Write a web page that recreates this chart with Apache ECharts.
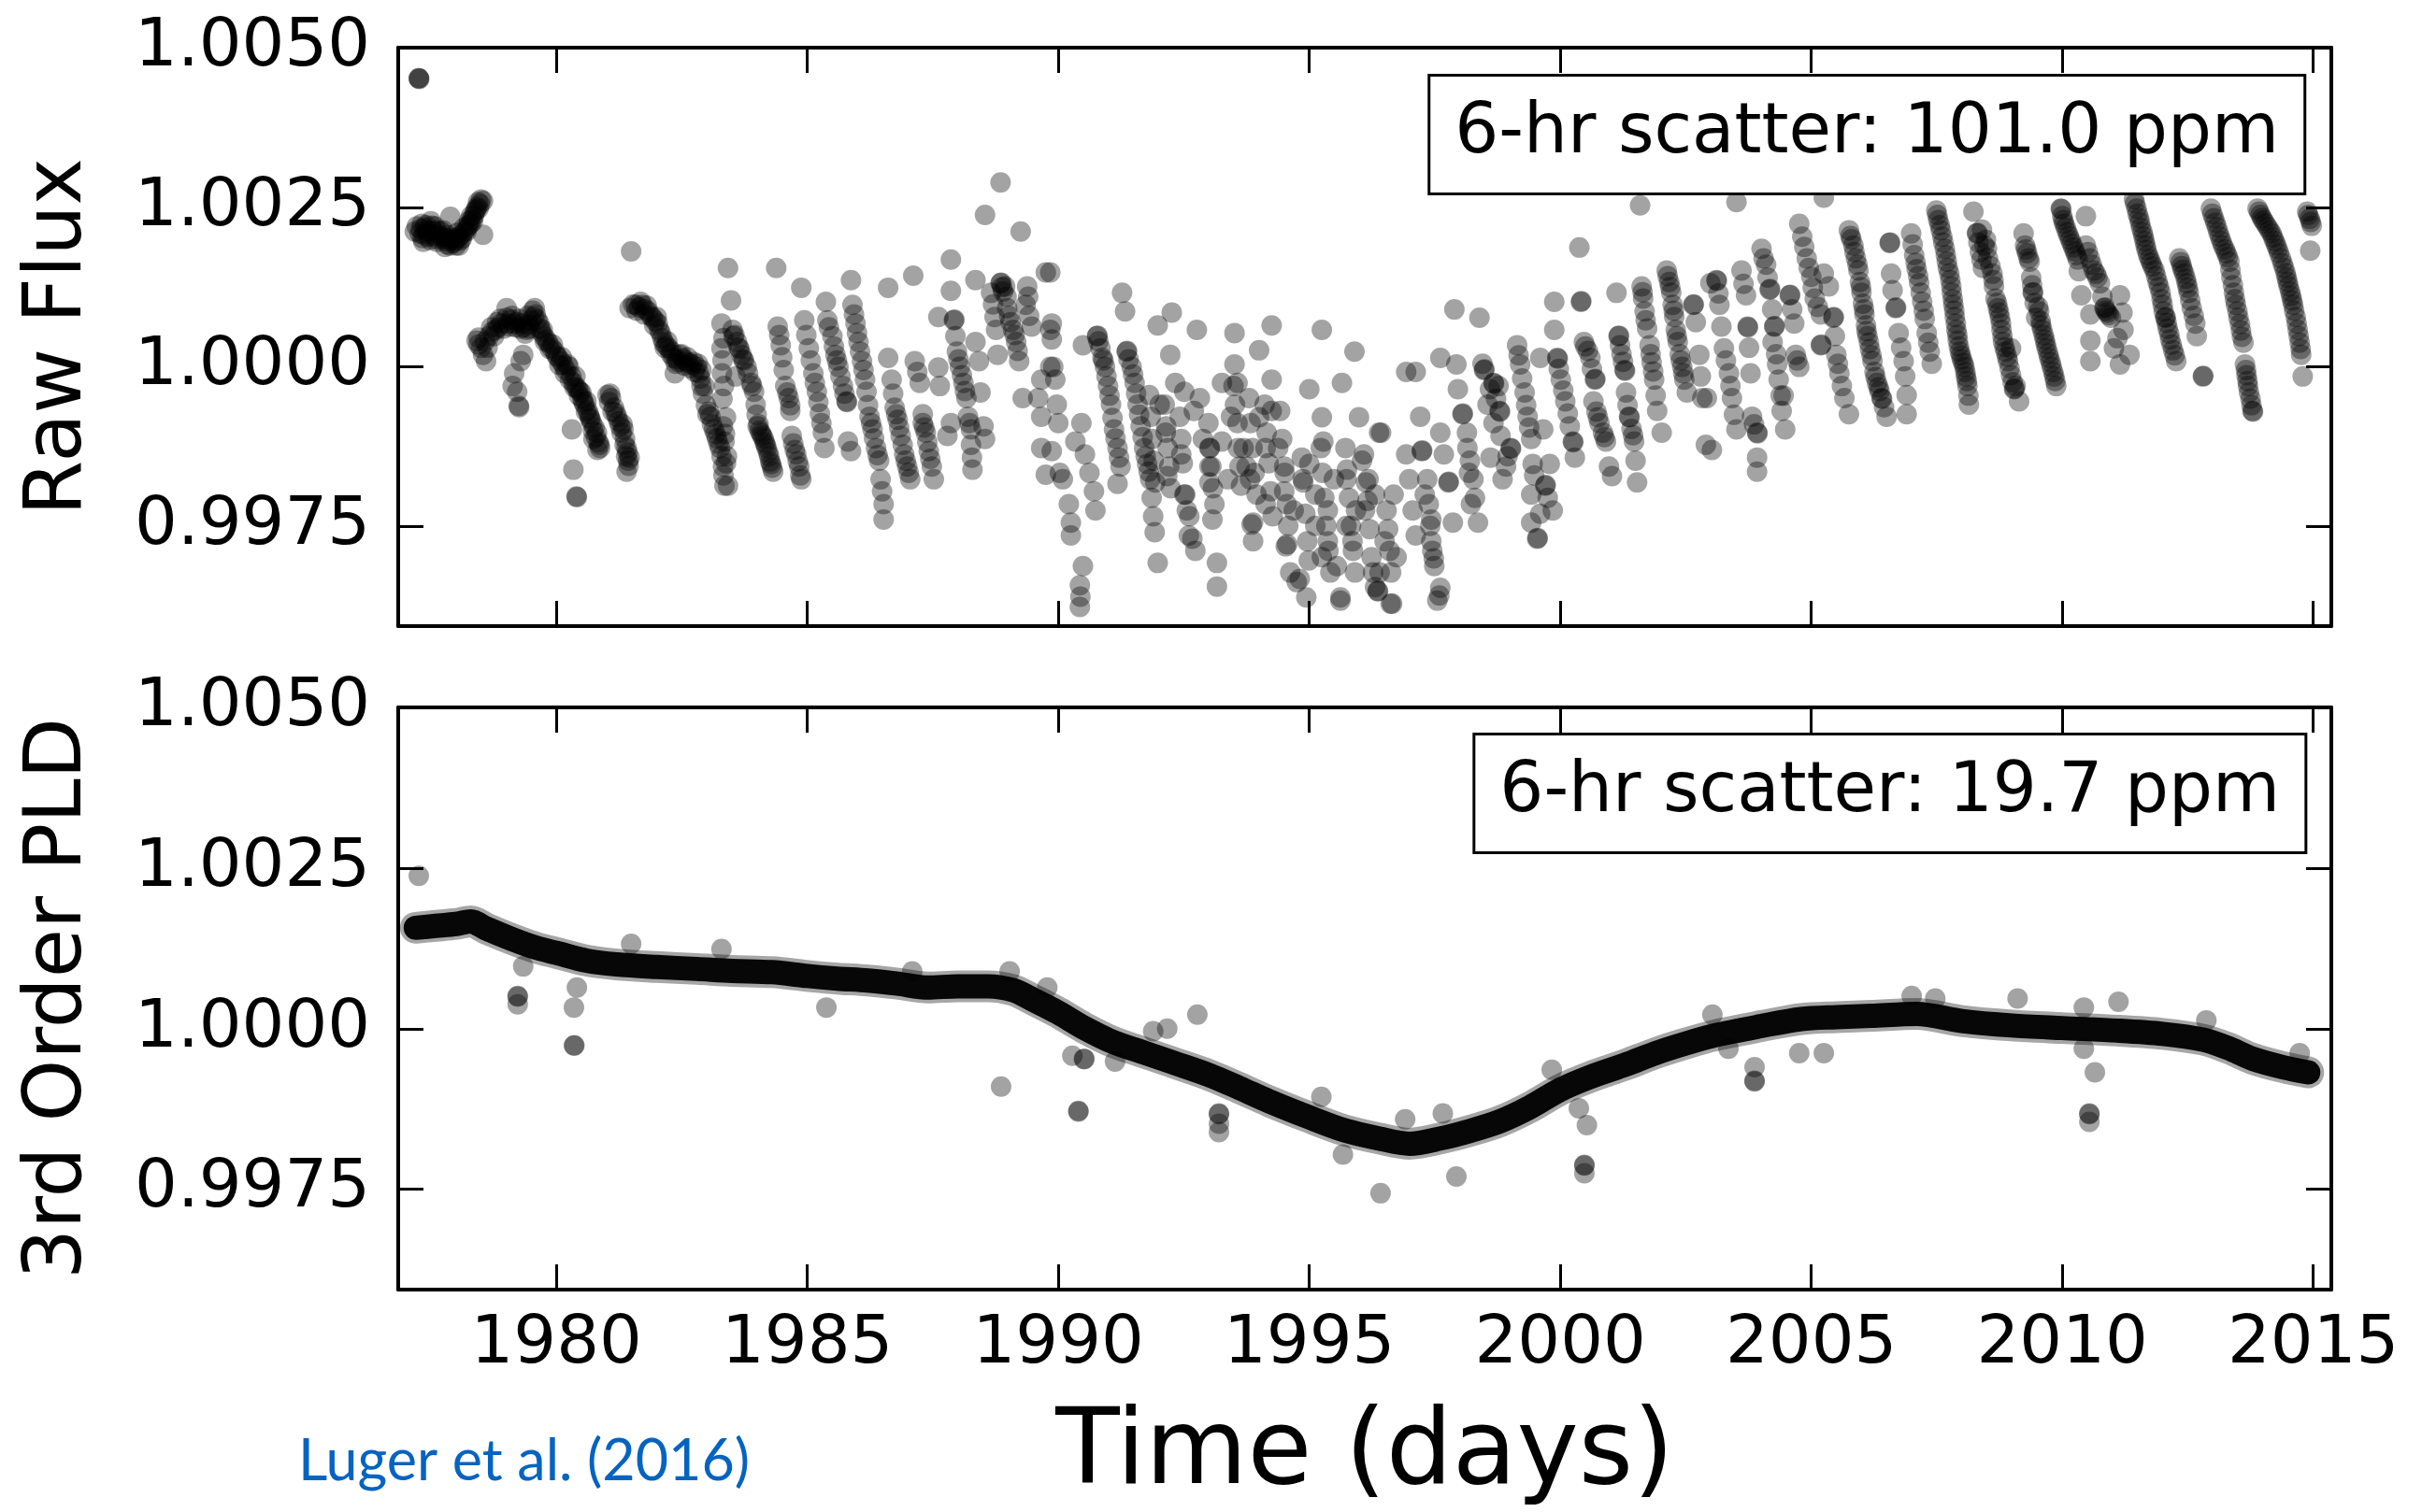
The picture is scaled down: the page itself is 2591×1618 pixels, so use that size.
<!DOCTYPE html>
<html><head><meta charset="utf-8">
<script src="https://cdn.jsdelivr.net/npm/echarts@6/dist/echarts.min.js"></script>
<style>html,body{margin:0;padding:0;background:#fff}#c{width:2591px;height:1618px}</style>
</head><body><div id="c"></div>
<script>
const xTicks = [1980, 1985, 1990, 1995, 2000, 2005, 2010, 2015];
const yTicks = [0.9975, 1.0000, 1.0025, 1.0050];
const xRange = [1976.85, 2015.36];
const yRange = [0.99594, 1.0050];
const topLabel = '6-hr scatter: 101.0 ppm';
const bottomLabel = '6-hr scatter: 19.7 ppm';

// Raw flux: [time, flux]
const rawPoints = [
[1977.26,1.00452],[1977.26,1.00452],[1977.27,1.00451],
[1977.30,1.00216],[1977.36,1.00207],[1977.42,1.00214],[1977.52,1.00221],[1977.61,1.00214],[1977.67,1.00207],[1977.76,1.00204],[1977.86,1.00199],[1977.95,1.00194],[1978.04,1.00202],[1978.14,1.00209],[1978.23,1.00219],[1978.32,1.00231],[1978.38,1.00243],[1978.48,1.00255],[1978.54,1.00260],[1978.45,1.00248],[1978.29,1.00224],[1977.48,1.00199],[1977.33,1.00202],[1977.40,1.00222],[1977.57,1.00205],[1977.80,1.00197],[1978.00,1.00190],[1978.18,1.00213],[1978.36,1.00237],[1977.28,1.00209],[1977.45,1.00210],[1977.70,1.00212],[1977.90,1.00203],[1978.09,1.00198],[1978.26,1.00228],[1978.42,1.00250],[1977.38,1.00218],[1977.55,1.00213],[1977.83,1.00192],[1978.54,1.00207],[1977.89,1.00235],
[1977.18,1.00212],[1977.22,1.00220],[1977.32,1.00224],[1977.35,1.00196],[1977.44,1.00204],[1977.50,1.00228],[1977.58,1.00220],[1977.64,1.00200],[1977.72,1.00202],[1977.74,1.00214],[1977.82,1.00206],[1977.88,1.00190],[1977.93,1.00200],[1977.98,1.00197],[1978.02,1.00210],[1978.07,1.00205],[1978.12,1.00201],[1978.16,1.00218],[1978.21,1.00212],[1978.25,1.00222],[1978.30,1.00236],[1978.34,1.00228],[1978.40,1.00246],[1978.44,1.00258],[1978.50,1.00262],[1977.62,1.00196],[1977.78,1.00188],[1978.06,1.00190],
[1978.41,1.00041],[1978.54,1.00019],[1978.60,1.00009],[1978.66,1.00048],[1978.79,1.00058],[1978.91,1.00068],[1979.01,1.00077],[1979.07,1.00063],[1979.16,1.00068],[1979.29,1.00060],[1979.41,1.00058],[1979.50,1.00073],[1979.59,1.00082],[1979.66,1.00068],[1979.75,1.00048],[1979.84,1.00038],[1979.97,1.00024],[1980.09,1.00009],[1980.19,0.99995],[1980.25,1.00000],[1980.34,0.99975],[1980.47,0.99961],[1980.56,0.99941],[1980.65,0.99926],[1980.71,0.99912],[1980.81,0.99897],[1980.87,0.99873],[1980.74,0.99887],
[1979.10,1.00074],[1979.45,1.00066],[1979.70,1.00055],[1979.90,1.00030],[1980.03,1.00015],[1980.30,0.99985],[1980.40,0.99968],[1980.52,0.99950],[1980.62,0.99932],[1980.76,0.99905],[1980.84,0.99882],[1978.50,1.00030],[1978.72,1.00055],[1978.85,1.00062],[1979.22,1.00070],[1979.35,1.00062],[1979.55,1.00078],[1979.80,1.00043],[1980.14,1.00003],[1980.43,0.99965],[1980.68,0.99918],
[1978.45,1.00035],[1978.58,1.00040],[1978.63,1.00030],[1978.70,1.00062],[1978.76,1.00048],[1978.82,1.00070],[1978.88,1.00075],[1978.95,1.00060],[1979.04,1.00068],[1979.12,1.00080],[1979.19,1.00062],[1979.26,1.00075],[1979.32,1.00068],[1979.38,1.00052],[1979.43,1.00080],[1979.48,1.00060],[1979.53,1.00088],[1979.62,1.00074],[1979.68,1.00060],[1979.73,1.00058],[1979.77,1.00040],[1979.87,1.00028],[1979.93,1.00035],[1980.00,1.00018],[1980.06,1.00003],[1980.11,1.00015],[1980.17,0.99990],[1980.22,1.00004],[1980.27,0.99980],[1980.36,0.99968],[1980.38,0.99985],[1980.45,0.99955],[1980.50,0.99960],[1980.54,0.99945],[1980.59,0.99930],[1980.60,0.99946],[1980.67,0.99920],[1980.73,0.99900],[1980.79,0.99890],[1980.86,0.99878],[1980.82,0.99870],
[1979.01,1.00092],[1979.57,1.00092],[1978.45,1.00046],[1979.34,1.00019],[1979.29,1.00009],[1979.16,0.99990],[1979.13,0.99970],[1979.22,0.99961],[1979.25,0.99939],[1979.26,0.99937],[1980.31,0.99902],[1980.34,0.99839],[1980.40,0.99797],[1980.41,0.99796],
[1981.09,0.99951],[1981.21,0.99922],[1981.34,0.99902],[1981.40,0.99873],[1981.43,0.99853],[1981.40,0.99836],[1981.02,0.99956],[1981.15,0.99936],[1981.27,0.99907],[1981.37,0.99887],[1981.46,0.99858],[1981.05,0.99945],[1981.18,0.99928],[1981.30,0.99897],[1981.42,0.99866],
[1981.07,0.99958],[1981.12,0.99930],[1981.24,0.99915],[1981.32,0.99910],[1981.36,0.99878],[1981.39,0.99860],[1981.44,0.99845],
[1981.49,1.00181],
[1981.58,1.00097],[1981.83,1.00087],[1982.02,1.00068],[1982.14,1.00038],[1982.33,1.00014],[1982.58,1.00009],[1982.79,1.00000],[1982.89,0.99970],[1983.01,0.99926],[1983.14,0.99902],[1983.26,0.99873],[1983.32,0.99844],[1983.35,0.99814],
[1981.46,1.00092],[1981.71,1.00097],[1981.92,1.00077],[1982.08,1.00053],[1982.24,1.00029],[1982.45,1.00019],[1982.70,1.00004],[1982.89,0.99995],[1982.36,0.99990],[1982.95,0.99970],[1983.07,0.99922],
[1981.65,1.00093],[1981.77,1.00090],[1981.97,1.00072],[1982.19,1.00033],[1982.40,1.00012],[1982.52,1.00013],[1982.64,1.00006],[1982.84,0.99990],[1983.20,0.99888],
[1981.53,1.00098],[1981.60,1.00088],[1981.68,1.00102],[1981.75,1.00082],[1981.80,1.00096],[1981.88,1.00080],[1981.95,1.00065],[1982.00,1.00078],[1982.05,1.00058],[1982.11,1.00045],[1982.16,1.00030],[1982.21,1.00040],[1982.28,1.00020],[1982.30,1.00024],[1982.38,1.00005],[1982.43,1.00008],[1982.49,1.00020],[1982.55,1.00002],[1982.61,1.00015],[1982.67,0.99998],[1982.73,1.00008],[1982.76,0.99992],[1982.82,1.00005],[1982.87,0.99982],[1982.92,0.99958],[1982.98,0.99940],[1983.04,0.99930],[1983.10,0.99910],[1983.17,0.99895],[1983.23,0.99880],[1983.29,0.99860],[1983.33,0.99830],
[1983.42,1.00155],[1983.48,1.00104],[1983.51,1.00058],[1983.60,1.00039],[1983.69,1.00019],[1983.79,1.00000],[1983.57,0.99985],[1983.88,0.99975],[1983.94,0.99961],[1983.97,0.99941],[1984.01,0.99907],[1984.10,0.99892],[1984.19,0.99873],[1984.28,0.99848],[1984.32,0.99836],
[1983.32,0.99907],[1983.35,0.99883],[1983.38,0.99849],[1983.42,0.99814],[1983.38,0.99921],[1983.29,1.00068],[1983.29,1.00029],[1983.30,0.99990],[1983.31,0.99950],
[1983.55,1.00050],[1983.65,1.00028],[1983.74,1.00010],[1984.05,0.99900],[1984.15,0.99882],[1984.24,0.99860],
[1983.33,1.00045],[1983.31,1.00010],[1983.34,0.99970],[1983.36,0.99895],[1983.40,0.99860],[1983.53,1.00048],[1983.63,1.00030],[1983.72,1.00012],[1983.82,0.99990],[1983.90,0.99970],[1983.99,0.99925],[1984.03,0.99910],[1984.08,0.99896],[1984.13,0.99888],[1984.17,0.99878],[1984.22,0.99866],[1984.26,0.99852],[1984.30,0.99842],
[1984.38,1.00155],[1984.88,1.00124],[1984.41,1.00063],[1984.47,1.00034],[1984.53,0.99995],[1984.56,0.99970],[1984.63,0.99951],[1984.66,0.99931],[1984.69,0.99892],[1984.78,0.99863],[1984.84,0.99844],[1984.88,0.99824],
[1984.44,1.00050],[1984.50,1.00015],[1984.60,0.99960],[1984.66,0.99940],[1984.72,0.99880],[1984.75,0.99870],[1984.81,0.99852],[1984.86,0.99830],
[1984.94,1.00073],[1985.03,1.00029],[1985.12,0.99990],[1985.19,0.99961],[1985.25,0.99927],[1985.31,0.99897],[1985.34,0.99873],[1985.37,1.00102],[1985.40,1.00073],[1985.50,1.00048],[1985.56,1.00019],[1985.62,1.00000],[1985.71,0.99970],[1985.78,0.99946],[1985.79,0.99945],
[1984.98,1.00050],[1985.07,1.00010],[1985.15,0.99975],[1985.22,0.99945],[1985.28,0.99912],[1985.43,1.00062],[1985.53,1.00032],[1985.59,1.00010],[1985.66,0.99985],[1985.74,0.99958],
[1985.87,1.00136],[1985.90,1.00097],[1985.96,1.00068],[1986.02,1.00039],[1986.09,1.00009],[1986.15,0.99980],[1986.18,0.99961],[1986.24,0.99922],[1986.30,0.99902],[1986.37,0.99873],[1986.43,0.99853],[1986.46,0.99824],[1986.52,0.99785],[1986.52,0.99761],[1985.81,0.99883],[1985.87,0.99868],
[1985.93,1.00082],[1985.99,1.00053],[1986.05,1.00024],[1986.12,0.99995],[1986.21,0.99940],[1986.27,0.99912],[1986.33,0.99888],[1986.40,0.99862],[1986.49,0.99805],
[1986.61,1.00124],[1986.61,1.00014],[1986.68,0.99980],[1986.74,0.99936],[1986.80,0.99917],[1986.86,0.99892],[1986.93,0.99863],[1986.99,0.99844],[1987.05,0.99824],[1987.11,1.00143],
[1986.71,0.99958],[1986.77,0.99926],[1986.83,0.99905],[1986.90,0.99878],[1986.96,0.99853],[1987.02,0.99834],
[1987.14,1.00009],[1987.24,0.99975],[1987.30,0.99912],[1987.36,0.99897],[1987.42,0.99868],[1987.48,0.99844],[1987.52,0.99824],[1987.30,0.99926],[1987.61,0.99999],[1987.64,0.99970],
[1987.19,0.99992],[1987.33,0.99905],[1987.39,0.99882],[1987.45,0.99856],
[1987.86,1.00168],[1987.86,1.00119],[1987.92,1.00073],[1987.93,1.00074],[1987.61,1.00078],[1987.98,1.00024],[1988.04,1.00000],[1988.11,0.99975],[1988.17,0.99951],[1988.20,0.99922],[1988.26,0.99902],[1988.26,0.99878],[1988.29,0.99839],[1987.79,0.99892],[1987.86,0.99912],[1988.35,1.00039],[1988.42,1.00009],[1988.45,0.99960],[1988.51,0.99907],[1988.54,0.99887],[1988.35,1.00136],
[1987.95,1.00048],[1988.01,1.00012],[1988.08,0.99987],[1988.14,0.99962],[1988.23,0.99912],[1988.28,0.99858],
[1988.54,1.00238],[1988.85,1.00289],[1989.25,1.00212],[1988.85,1.00131],[1988.86,1.00132],[1988.94,1.00126],[1988.66,1.00116],[1988.73,1.00078],[1988.76,1.00058],[1989.10,1.00058],[1989.16,1.00039],[1989.22,1.00009],[1989.35,1.00097],[1989.38,1.00126],[1989.47,1.00063],[1988.79,1.00019],[1988.98,1.00092],[1989.75,1.00148],[1989.84,1.00058],[1989.66,0.99980],[1989.29,0.99951],[1989.60,0.99951],[1989.66,0.99922],[1989.66,0.99873],[1989.75,0.99831],[1989.84,1.00000],[1988.90,1.00118],[1989.02,1.00080],
[1988.88,1.00125],[1988.97,1.00110],[1989.05,1.00070],[1989.13,1.00050],[1989.19,1.00025],[1989.42,1.00080],[1988.70,1.00098],[1989.40,1.00110],
[1989.84,1.00148],[1989.87,1.00068],[1989.87,1.00043],[1989.90,1.00000],[1989.94,0.99980],[1989.97,0.99941],[1990.00,0.99912],[1989.87,0.99868],[1990.03,0.99834],[1990.09,0.99824],[1990.21,0.99785],[1990.25,0.99756],[1990.25,0.99736],
[1990.49,1.00034],[1990.34,0.99883],[1990.46,0.99912],[1990.53,0.99863],[1990.62,0.99834],[1990.71,0.99805],[1990.74,0.99775],[1990.49,0.99688],[1990.43,0.99658],[1990.43,0.99624],[1990.44,0.99640],
[1990.77,1.00048],[1990.78,1.00049],[1990.84,1.00029],[1990.93,1.00000],[1990.99,0.99970],[1991.05,0.99941],[1991.11,0.99902],[1991.18,0.99873],[1991.24,0.99844],[1991.18,0.99817],[1991.27,1.00116],[1991.33,1.00087],[1990.88,1.00014],[1991.02,0.99955],[1991.08,0.99920],
[1990.80,1.00040],[1990.90,1.00010],[1990.96,0.99985],[1991.14,0.99888],[1991.21,0.99858],[1991.40,1.00012],[1991.55,0.99958],[1991.68,0.99890],[1991.74,0.99860],[1991.80,0.99836],
[1991.36,1.00024],[1991.37,1.00025],[1991.46,1.00000],[1991.52,0.99975],[1991.58,0.99941],[1991.64,0.99907],[1991.71,0.99873],[1991.77,0.99848],[1991.83,0.99824],[1991.86,0.99795],[1991.89,0.99766],[1991.92,0.99741],[1991.98,0.99693],[1991.49,0.99988],[1991.61,0.99925],
[1991.98,1.00065],[1992.26,1.00085],[1992.23,1.00019],[1992.33,0.99975],[1992.02,0.99941],[1992.14,0.99897],[1992.45,0.99863],[1992.17,0.99829],[1992.51,0.99800],[1992.61,0.99766],[1992.67,0.99731],[1992.73,0.99712],[1992.76,1.00058],[1992.82,0.99951],[1992.88,0.99887],[1993.01,0.99819],[1993.07,0.99761],[1993.16,0.99693],[1993.16,0.99656],[1993.26,0.99883],[1993.26,0.99975],
[1991.81,0.99956],[1991.84,0.99922],[1991.87,0.99887],[1991.90,0.99853],[1991.93,0.99819],
[1992.12,0.99941],[1992.15,0.99907],[1992.18,0.99873],[1992.21,0.99844],[1992.24,0.99810],
[1992.42,0.99922],[1992.45,0.99887],[1992.48,0.99849],[1992.53,0.99800],[1992.56,0.99775],[1992.60,0.99736],
[1992.99,0.99912],[1993.02,0.99873],[1993.05,0.99844],[1993.08,0.99810],[1993.11,0.99785],
[1993.49,0.99970],[1993.52,0.99941],[1993.58,0.99873],[1993.61,0.99844],[1993.64,0.99814],
[1993.80,0.99951],[1993.83,0.99912],[1993.87,0.99873],[1993.91,0.99834],[1993.95,0.99800],
[1994.11,0.99941],[1994.15,0.99897],[1994.19,0.99849],[1994.23,0.99805],[1994.27,0.99766],
[1994.42,0.99931],[1994.46,0.99887],[1994.51,0.99834],[1994.55,0.99785],[1994.58,0.99751],
[1994.85,0.99858],[1994.88,0.99819],[1994.92,0.99770],[1994.96,0.99727],[1994.99,0.99697],
[1995.23,0.99873],[1995.26,0.99834],[1995.30,0.99795],[1995.34,0.99751],[1995.38,0.99712],[1995.42,0.99678],
[1995.72,0.99873],[1995.75,0.99839],[1995.79,0.99795],[1995.83,0.99751],[1995.87,0.99712],[1995.91,0.99678],
[1996.09,0.99863],[1996.13,0.99819],[1996.16,0.99790],[1996.20,0.99746],[1996.27,0.99678],
[1993.51,1.00053],[1993.51,1.00004],[1993.57,0.99975],[1993.57,0.99912],[1993.38,0.99824],[1993.75,0.99844],[1993.88,0.99756],[1993.88,0.99727],[1994.00,1.00026],[1994.25,1.00065],[1994.25,0.99980],[1994.25,0.99931],[1994.38,0.99873],[1994.50,0.99805],[1994.56,0.99722],[1994.75,0.99663],[1994.94,0.99639],[1994.62,0.99678],[1994.13,0.99785],
[1992.51,0.99961],[1992.70,0.99931],[1993.01,0.99844],[1993.01,0.99873],[1993.44,0.99922],[1993.69,0.99873],[1993.82,0.99824],[1994.00,0.99921],[1994.13,0.99873],[1994.50,0.99844],[1994.69,0.99775],[1994.87,0.99824],[1995.12,0.99751],[1995.37,0.99727],[1995.74,0.99751],[1995.93,0.99775],[1996.18,0.99824],
[1995.00,0.99965],[1995.25,1.00058],[1995.65,0.99975],[1995.90,1.00024],[1995.25,0.99921],[1995.28,0.99883],[1995.00,0.99848],[1995.12,0.99800],[1995.37,0.99775],[1995.49,0.99824],[1995.55,0.99688],[1995.62,0.99639],[1995.74,0.99824],[1995.99,0.99921],[1996.05,0.99853],[1996.11,0.99775],[1996.24,0.99702],[1996.36,0.99649],[1996.39,0.99897],[1995.86,0.99727],[1995.25,0.99702],
[1994.81,0.99668],[1994.53,0.99719],[1995.62,0.99634],[1996.31,0.99655],[1996.62,0.99629],[1997.59,0.99642],[1997.48,0.99700],[1993.85,0.99753],
[1996.43,0.99897],[1996.31,0.99800],[1996.50,0.99727],[1996.40,0.99678],[1996.68,0.99800],[1996.74,0.99702],[1996.65,0.99629],[1996.37,0.99649],[1996.93,0.99863],[1996.99,0.99824],[1997.06,0.99775],[1997.12,0.99736],[1997.24,0.99868],[1997.25,0.99869],[1997.21,0.99922],[1996.93,0.99992],[1997.12,0.99992],[1997.30,0.99800],[1997.43,0.99727],[1997.49,0.99688],[1997.61,0.99654],[1997.55,0.99634],[1997.43,0.99761],[1997.61,0.99897],[1997.68,0.99863],[1997.77,0.99819],[1997.78,0.99820],[1997.86,0.99756],[1997.89,1.00090],[1998.39,1.00077],[1997.61,1.00014],
[1996.54,0.99775],[1996.57,0.99746],[1996.60,0.99712],[1996.63,0.99678],
[1997.35,0.99824],[1997.38,0.99785],[1997.41,0.99751],[1997.45,0.99712],
[1998.15,0.99873],[1998.18,0.99834],[1998.22,0.99785],
[1998.77,0.99970],[1998.81,0.99892],[1998.85,0.99824],
[1997.93,1.00004],[1997.96,0.99965],[1998.05,0.99926],[1998.06,0.99927],[1998.14,0.99897],[1998.20,0.99853],[1998.27,0.99824],[1998.30,0.99795],[1998.36,0.99756],
[1998.48,0.99995],[1998.49,0.99996],[1998.67,0.99975],[1998.68,0.99974],[1998.55,0.99941],[1998.79,0.99931],[1998.80,0.99930],[1998.67,0.99912],[1998.61,0.99858],[1999.01,0.99873],[1999.02,0.99872],[1998.92,0.99844],
[1998.45,1.00005],[1998.60,0.99965],[1998.72,0.99950],[1998.95,0.99860],[1999.17,1.00018],[1999.24,0.99982],[1999.32,0.99940],[1999.38,0.99905],[1999.48,0.99830],[1999.60,0.99770],[1999.75,0.99795],
[1999.14,1.00034],[1999.20,1.00004],[1999.29,0.99960],[1999.35,0.99922],[1999.42,0.99887],[1999.45,0.99848],[1999.42,0.99800],[1999.54,0.99731],[1999.55,0.99732],[1999.42,0.99756],[1999.70,0.99814],[1999.71,0.99815],[1999.85,0.99775],[1999.60,1.00014],[1999.66,0.99902],[1999.79,0.99848],
[1999.88,1.00102],[1999.88,1.00058],[1999.94,1.00014],[1999.95,1.00013],[1999.97,0.99997],[2000.01,0.99980],[2000.06,0.99963],[2000.10,0.99946],[2000.15,0.99927],[2000.19,0.99907],[2000.25,0.99883],[2000.26,0.99882],[2000.29,0.99858],
[2000.38,1.00187],[2000.41,1.00102],[2000.42,1.00103],[2000.47,1.00039],[2000.55,1.00025],[2000.60,1.00014],[2000.69,0.99980],[2000.70,0.99981],[2000.66,0.99946],[2000.72,0.99930],[2000.78,0.99912],[2000.85,0.99897],[2000.91,0.99883],[2000.97,0.99844],[2001.03,0.99829],
[2000.50,1.00032],[2000.63,0.99997],[2000.75,0.99921],[2000.88,0.99890],
[2001.12,1.00116],[2001.16,1.00048],[2001.17,1.00049],[2001.22,1.00020],[2001.28,0.99995],[2001.29,0.99994],[2001.31,0.99960],[2001.37,0.99922],[2001.38,0.99921],[2001.42,0.99903],[2001.47,0.99883],[2001.50,0.99853],[2001.53,0.99819],[2001.59,1.00253],
[2001.19,1.00034],[2001.25,1.00008],[2001.34,0.99940],[2001.45,0.99893],
[2001.62,1.00126],[2001.65,1.00107],[2001.68,1.00087],[2001.73,1.00060],[2001.78,1.00034],[2001.82,1.00007],[2001.87,0.99980],[2001.90,0.99955],[2001.93,0.99931],[2002.02,0.99897],
[2001.64,1.00117],[2001.70,1.00073],[2001.80,1.00020],[2001.85,0.99993],
[2002.12,1.00151],[2002.17,1.00133],[2002.21,1.00116],[2002.24,1.00097],[2002.27,1.00078],[2002.30,1.00058],[2002.34,1.00039],[2002.38,1.00020],[2002.43,1.00000],[2002.47,0.99980],[2002.52,0.99960],
[2002.14,1.00142],[2002.19,1.00125],[2002.26,1.00088],[2002.32,1.00048],[2002.40,1.00010],[2002.45,0.99990],
[2002.65,1.00097],[2002.66,1.00098],[2002.70,1.00070],[2002.77,1.00019],[2002.80,0.99985],[2002.83,0.99951],[2002.90,0.99878],[2002.99,1.00131],[2002.92,0.99951],
[2003.51,1.00258],[2005.25,1.00265],
[2003.11,1.00136],[2003.12,1.00135],[2003.17,1.00097],[2003.26,1.00029],[2003.36,0.99990],[2003.42,0.99951],[2003.51,0.99902],[2003.02,0.99870],[2003.21,1.00063],[2003.46,0.99925],
[2003.15,1.00115],[2003.30,1.00010],[2003.39,0.99970],[2003.65,1.00130],[2003.76,1.00030],[2003.86,0.99910],[2004.05,1.00170],[2004.13,1.00140],[2004.22,1.00090],[2004.30,1.00020],[2004.39,0.99955],[2004.62,1.00090],[2004.72,1.00010],
[2003.61,1.00151],[2003.70,1.00112],[2003.73,1.00063],[2003.74,1.00062],[2003.79,0.99990],[2003.82,0.99922],[2003.92,0.99897],[2003.93,0.99896],[2003.92,0.99858],[2003.92,0.99836],
[2004.01,1.00185],[2004.10,1.00160],[2004.17,1.00121],[2004.18,1.00122],[2004.26,1.00063],[2004.27,1.00064],[2004.23,1.00039],[2004.35,0.99980],[2004.41,0.99931],[2004.48,0.99902],[2004.57,1.00112],[2004.58,1.00113],[2004.66,1.00068],[2004.69,1.00019],[2004.76,1.00000],[2004.32,1.00004],[2004.45,0.99955],
[2004.76,1.00224],[2004.82,1.00204],[2004.86,1.00188],[2004.91,1.00170],[2004.95,1.00155],[2005.00,1.00141],[2005.03,1.00124],[2005.07,1.00107],[2005.13,1.00094],[2005.19,1.00082],[2005.25,1.00146],[2005.35,1.00126],[2005.44,1.00077],[2005.45,1.00078],[2005.19,1.00034],[2005.20,1.00035],[2005.47,1.00048],[2005.50,1.00019],[2005.53,1.00005],[2005.56,0.99990],[2005.61,0.99970],[2005.66,0.99951],[2005.75,0.99926],
[2005.75,1.00214],[2005.80,1.00200],[2005.84,1.00190],[2005.89,1.00170],[2005.94,1.00151],[2005.97,1.00133],[2006.00,1.00116],[2006.03,1.00099],[2006.06,1.00082],[2006.09,1.00065],[2006.12,1.00048],[2006.17,1.00028],[2006.22,1.00009],[2006.26,0.99992],[2006.31,0.99975],[2006.36,0.99962],[2006.40,0.99951],[2006.41,0.99950],[2006.45,0.99937],[2006.50,0.99922],
[2005.78,1.00205],[2005.86,1.00180],[2005.92,1.00160],[2005.99,1.00125],[2006.05,1.00090],[2006.10,1.00056],[2006.15,1.00038],[2006.20,1.00018],[2006.28,0.99984],[2006.34,0.99968],
[2006.56,1.00194],[2006.57,1.00195],[2006.59,1.00146],[2006.62,1.00120],[2006.68,1.00092],[2006.69,1.00093],[2006.74,1.00053],[2006.79,1.00030],[2006.84,1.00009],[2006.87,0.99985],[2006.90,0.99956],[2006.90,0.99926],
[2006.99,1.00209],[2007.05,1.00175],[2007.10,1.00153],[2007.15,1.00131],[2007.21,1.00102],[2007.26,1.00075],[2007.30,1.00053],[2007.36,1.00024],[2007.40,1.00005],
[2007.02,1.00192],[2007.08,1.00163],[2007.13,1.00142],[2007.18,1.00116],[2007.24,1.00088],[2007.33,1.00038],
[2007.49,1.00245],[2007.53,1.00230],[2007.58,1.00214],[2007.63,1.00195],[2007.68,1.00175],[2007.72,1.00155],[2007.77,1.00136],[2007.80,1.00116],[2007.83,1.00097],[2007.86,1.00078],[2007.89,1.00058],[2007.92,1.00041],[2007.96,1.00024],[2008.00,1.00012],[2008.05,1.00000],[2008.08,0.99985],[2008.11,0.99970],[2008.14,0.99941],
[2007.51,1.00238],[2007.56,1.00222],[2007.61,1.00204],[2007.66,1.00185],[2007.70,1.00165],[2007.75,1.00146],[2007.79,1.00126],[2007.82,1.00106],[2007.85,1.00088],[2007.88,1.00068],[2007.91,1.00050],[2007.94,1.00032],[2007.98,1.00018],[2008.03,1.00006],[2008.07,0.99992],[2008.10,0.99978],[2008.13,0.99955],
[2008.23,1.00243],[2008.30,1.00209],[2008.31,1.00210],[2008.40,1.00215],[2008.45,1.00190],[2008.48,1.00199],[2008.36,1.00180],[2008.42,1.00155],[2008.52,1.00170],[2008.61,1.00146],[2008.64,1.00126],[2008.67,1.00107],[2008.72,1.00092],[2008.76,1.00077],[2008.79,1.00058],[2008.82,1.00039],[2008.87,1.00024],[2008.92,1.00009],[2008.98,0.99987],[2009.04,0.99965],[2009.05,0.99966],[2009.07,0.99970],[2009.14,0.99946],[2008.98,1.00029],
[2008.33,1.00195],[2008.39,1.00168],[2008.50,1.00185],[2008.57,1.00158],[2008.63,1.00136],[2008.70,1.00100],[2008.74,1.00085],[2008.78,1.00068],[2008.81,1.00048],[2008.85,1.00031],[2008.90,1.00016],[2008.95,0.99998],[2009.01,0.99976],
[2009.23,1.00209],[2009.26,1.00190],[2009.30,1.00178],[2009.35,1.00165],[2009.38,1.00140],[2009.41,1.00116],[2009.42,1.00117],[2009.45,1.00100],[2009.48,1.00077],[2009.54,1.00087],[2009.57,1.00072],[2009.60,1.00058],[2009.65,1.00043],[2009.69,1.00029],[2009.74,1.00014],[2009.79,1.00000],[2009.84,0.99985],[2009.88,0.99970],
[2009.28,1.00184],[2009.33,1.00170],[2009.40,1.00128],[2009.52,1.00094],[2009.58,1.00065],[2009.63,1.00050],[2009.67,1.00036],[2009.72,1.00021],[2009.77,1.00007],[2009.82,0.99992],[2009.86,0.99978],
[2009.97,1.00248],[2009.98,1.00247],[2010.00,1.00236],[2010.04,1.00224],[2010.10,1.00211],[2010.16,1.00199],[2010.22,1.00187],[2010.28,1.00175],[2010.47,1.00236],[2010.47,1.00190],[2010.55,1.00170],[2010.63,1.00151],[2010.70,1.00140],[2010.75,1.00131],[2010.84,1.00092],[2010.85,1.00093],[2010.90,1.00085],[2010.97,1.00077],[2011.15,1.00112],[2011.22,1.00058],[2011.03,1.00029],[2011.15,1.00004],[2011.34,1.00019],[2010.38,1.00112],[2010.56,1.00082],[2010.56,1.00041],[2010.56,1.00009],[2011.10,1.00045],[2011.20,1.00085],[2010.33,1.00150],
[2010.02,1.00230],[2010.07,1.00218],[2010.13,1.00205],[2010.19,1.00193],[2010.25,1.00181],[2010.31,1.00168],[2010.51,1.00180],[2010.59,1.00160],[2010.67,1.00146],[2010.80,1.00110],[2010.87,1.00088],[2010.93,1.00081],
[2011.43,1.00263],[2011.48,1.00248],[2011.53,1.00233],[2011.57,1.00218],[2011.62,1.00204],[2011.66,1.00190],[2011.71,1.00175],[2011.77,1.00163],[2011.84,1.00151],[2011.90,1.00133],[2011.96,1.00116],[2012.00,1.00097],[2012.05,1.00077],[2012.06,1.00078],[2012.10,1.00060],[2012.15,1.00043],[2012.21,1.00026],[2012.27,1.00009],
[2011.45,1.00256],[2011.50,1.00240],[2011.55,1.00226],[2011.60,1.00211],[2011.64,1.00197],[2011.68,1.00183],[2011.74,1.00169],[2011.80,1.00157],[2011.87,1.00142],[2011.93,1.00125],[2011.98,1.00106],[2012.02,1.00087],[2012.08,1.00069],[2012.13,1.00052],[2012.18,1.00035],[2012.24,1.00018],
[2012.33,1.00170],[2012.38,1.00158],[2012.43,1.00146],[2012.48,1.00131],[2012.52,1.00116],[2012.58,1.00092],[2012.65,1.00068],[2012.68,1.00048],[2012.80,0.99985],[2012.81,0.99986],
[2012.36,1.00164],[2012.40,1.00152],[2012.46,1.00138],[2012.50,1.00124],[2012.55,1.00104],[2012.62,1.00080],
[2012.96,1.00248],[2013.02,1.00233],[2013.08,1.00219],[2013.14,1.00204],[2013.20,1.00190],[2013.27,1.00178],[2013.33,1.00165],[2013.37,1.00140],[2013.42,1.00116],[2013.46,1.00097],[2013.51,1.00077],[2013.56,1.00057],[2013.61,1.00038],[2013.64,1.00004],[2013.67,0.99987],[2013.70,0.99970],[2013.75,0.99950],[2013.79,0.99931],[2013.80,0.99930],
[2012.99,1.00240],[2013.05,1.00226],[2013.11,1.00211],[2013.17,1.00197],[2013.24,1.00184],[2013.30,1.00172],[2013.35,1.00152],[2013.40,1.00128],[2013.44,1.00106],[2013.49,1.00087],[2013.54,1.00067],[2013.58,1.00047],[2013.66,0.99995],[2013.69,0.99978],[2013.72,0.99960],[2013.77,0.99940],
[2013.89,1.00248],[2013.95,1.00238],[2014.01,1.00229],[2014.09,1.00219],[2014.17,1.00209],[2014.23,1.00197],[2014.29,1.00185],[2014.36,1.00170],[2014.42,1.00155],[2014.47,1.00140],[2014.51,1.00126],[2014.56,1.00111],[2014.60,1.00097],[2014.65,1.00078],[2014.69,1.00058],[2014.73,1.00038],[2014.76,1.00019],[2014.79,0.99985],
[2013.92,1.00243],[2013.98,1.00233],[2014.05,1.00224],[2014.13,1.00214],[2014.20,1.00203],[2014.26,1.00191],[2014.32,1.00178],[2014.39,1.00162],[2014.45,1.00147],[2014.49,1.00133],[2014.54,1.00118],[2014.58,1.00104],[2014.62,1.00088],[2014.67,1.00068],[2014.71,1.00048],[2014.75,1.00028],
[2014.88,1.00243],[2014.93,1.00232],[2014.97,1.00221],[2014.94,1.00182],[2014.90,1.00238],[2014.95,1.00227]
];

// 3rd order PLD: dense trend band [time, flux]
const pldTrend = [
[1977.20,1.00157],[1977.60,1.00160],[1978.00,1.00163],[1978.30,1.00167],[1978.60,1.00156],[1979.10,1.00140],[1979.60,1.00126],[1980.00,1.00118],[1980.60,1.00106],[1981.20,1.00100],[1982.00,1.00096],[1982.80,1.00093],[1983.50,1.00090],[1984.30,1.00088],[1985.00,1.00082],[1985.60,1.00078],[1986.20,1.00075],[1986.80,1.00070],[1987.40,1.00064],[1988.00,1.00066],[1988.60,1.00066],[1989.10,1.00060],[1989.50,1.00045],[1990.00,1.00025],[1990.50,1.00002],[1991.10,0.99979],[1991.70,0.99963],[1992.30,0.99947],[1993.00,0.99928],[1993.60,0.99908],[1994.20,0.99887],[1995.00,0.99862],[1995.70,0.99842],[1996.40,0.99829],[1997.00,0.99821],[1997.60,0.99829],[1998.20,0.99841],[1998.80,0.99856],[1999.40,0.99878],[2000.00,0.99905],[2000.60,0.99925],[2001.30,0.99944],[2001.90,0.99962],[2002.50,0.99977],[2003.10,0.99990],[2004.00,1.00004],[2004.80,1.00015],[2005.50,1.00018],[2006.20,1.00020],[2007.10,1.00023],[2008.00,1.00012],[2009.00,1.00005],[2010.00,1.00001],[2011.10,0.99997],[2012.00,0.99992],[2012.80,0.99983],[2013.30,0.99970],[2013.80,0.99953],[2014.40,0.99940],[2014.90,0.99932]
];
// 3rd order PLD: scattered points off the band
const pldOutliers = [
[1977.26,1.00238],[1979.23,1.00051],[1979.23,1.00050],[1979.23,1.00038],[1979.34,1.00097],[1980.35,1.00033],[1980.41,1.00064],[1980.35,0.99974],[1980.36,0.99974],[1981.49,1.00132],[1983.29,1.00124],[1985.38,1.00033],[1987.09,1.00089],[1989.03,1.00089],[1989.78,1.00064],[1988.86,0.99910],[1990.28,0.99958],[1990.51,0.99953],[1990.52,0.99953],[1990.40,0.99872],[1990.40,0.99871],[1991.13,0.99949],[1991.89,0.99996],[1992.17,1.00000],[1992.77,1.00022],[1993.20,0.99868],[1993.20,0.99867],[1993.20,0.99852],[1993.20,0.99839],[1995.24,0.99894],[1995.67,0.99804],[1996.42,0.99744],[1996.91,0.99859],[1997.66,0.99868],[1997.93,0.99770],[1999.83,0.99936],[2000.37,0.99876],[2000.53,0.99850],[2000.48,0.99788],[2000.48,0.99787],[2000.48,0.99775],[2003.03,1.00022],[2003.35,0.99969],[2003.87,0.99940],[2003.87,0.99919],[2003.87,0.99918],[2004.76,0.99962],[2005.25,0.99962],[2007.00,1.00051],[2007.47,1.00047],[2009.11,1.00047],[2010.43,1.00033],[2011.12,1.00042],[2010.43,0.99969],[2010.65,0.99932],[2010.54,0.99868],[2010.54,0.99867],[2010.54,0.99855],[2012.87,1.00013],[2014.73,0.99962]
];

const FONT = 'DejaVu Sans';
const chart = echarts.init(document.getElementById('c'), null, {renderer: 'canvas'});

function mkX(gi, pos, withLabels, name) {
  const a = {
    type: 'value', gridIndex: gi, position: pos, min: xRange[0], max: xRange[1],
    axisLine: {show: true, onZero: false, lineStyle: {color: '#000', width: 4}},
    axisTick: {show: true, inside: true, length: 27, lineStyle: {color: '#000', width: 3}, customValues: xTicks},
    axisLabel: {show: withLabels, customValues: xTicks, margin: 23, color: '#000', fontSize: 72, fontFamily: FONT,
      formatter: v => String(Math.round(v))},
    splitLine: {show: false}
  };
  if (name) {
    a.name = name; a.nameLocation = 'middle'; a.nameGap = 122;
    a.nameTextStyle = {fontSize: 112, fontFamily: FONT, color: '#000'};
  }
  return a;
}
function mkY(gi, pos, withLabels, name) {
  const a = {
    type: 'value', gridIndex: gi, position: pos, min: yRange[0], max: yRange[1],
    axisLine: {show: true, onZero: false, lineStyle: {color: '#000', width: 4}},
    axisTick: {show: true, inside: true, length: 27, lineStyle: {color: '#000', width: 3}, customValues: yTicks},
    axisLabel: {show: withLabels, customValues: yTicks, margin: 30, color: '#000', fontSize: 72, fontFamily: FONT,
      formatter: v => v.toFixed(4)},
    splitLine: {show: false}
  };
  if (name) {
    a.name = name; a.nameLocation = 'middle'; a.nameGap = 320;
    a.nameTextStyle = {fontSize: 85, fontFamily: FONT, color: '#000'};
  }
  return a;
}
const boxStyle = {
  borderColor: '#000', borderWidth: 3, backgroundColor: '#fff', padding: [27, 28, 27, 28],
  textStyle: {fontSize: 74, lineHeight: 74, fontWeight: 'normal', color: '#000', fontFamily: FONT}
};
const dot = {color: '#000', opacity: 0.36};

chart.setOption({
  animation: false,
  backgroundColor: '#fff',
  title: [
    Object.assign({text: topLabel, right: 125, top: 80}, boxStyle),
    Object.assign({text: bottomLabel, right: 124, top: 785}, boxStyle),
    {text: 'Luger et al. (2016)', left: 314, top: 1529,
     textStyle: {fontSize: 61, fontWeight: 'normal', color: '#0563c1', fontFamily: 'Lato'}}
  ],
  grid: [
    {left: 426, top: 51, width: 2068, height: 619, containLabel: false, outerBoundsMode: 'none'},
    {left: 426, top: 757, width: 2068, height: 623, containLabel: false, outerBoundsMode: 'none'}
  ],
  xAxis: [mkX(0, 'bottom', false), mkX(0, 'top', false), mkX(1, 'bottom', true, 'Time (days)'), mkX(1, 'top', false)],
  yAxis: [mkY(0, 'left', true, 'Raw Flux'), mkY(0, 'right', false), mkY(1, 'left', true, '3rd Order PLD'), mkY(1, 'right', false)],
  series: [
    {type: 'scatter', xAxisIndex: 0, yAxisIndex: 0, data: rawPoints, symbol: 'circle', symbolSize: 22, itemStyle: dot, silent: true},
    {type: 'line', xAxisIndex: 2, yAxisIndex: 2, data: pldTrend, showSymbol: false, smooth: 0.3, silent: true,
     lineStyle: {width: 34, color: '#000', opacity: 0.35, cap: 'round', join: 'round'}},
    {type: 'line', xAxisIndex: 2, yAxisIndex: 2, data: pldTrend, showSymbol: false, smooth: 0.3, silent: true,
     lineStyle: {width: 26, color: '#000', opacity: 0.96, cap: 'round', join: 'round'}},
    {type: 'scatter', xAxisIndex: 2, yAxisIndex: 2, data: pldOutliers, symbol: 'circle', symbolSize: 22, itemStyle: dot, silent: true}
  ]
});
</script>
</body></html>
